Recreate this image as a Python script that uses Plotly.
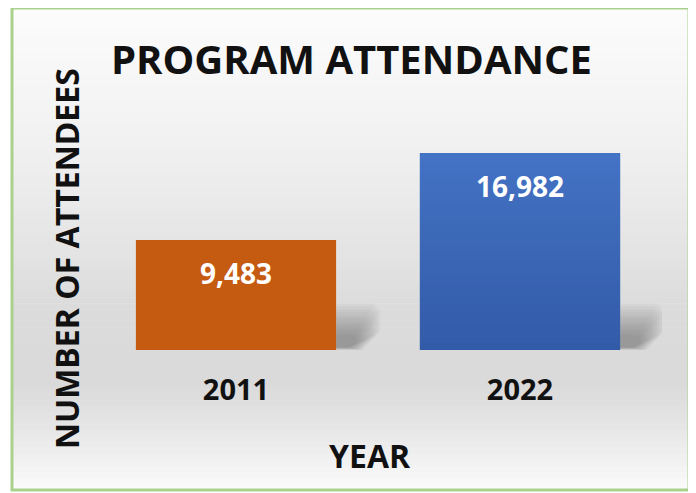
import plotly.graph_objects as go

# ---- data ----
years = ["2011", "2022"]
attendees = [9483, 16982]
value_labels = ["9,483", "16,982"]
bar_colors = ["#C55A11", "#4472C4"]

title_text = "PROGRAM ATTENDANCE"
x_title = "YEAR"
y_title = "NUMBER OF ATTENDEES"

OFF = 8  # page body margin
W, H = 696 - OFF, 493 - OFF
# plot area in reference pixel coords: x 94..662, y 100..350
PX0, PX1, PY0, PY1 = 94, 662, 100, 350
L, R, T, B = PX0 - OFF, W - (PX1 - OFF), PY0 - OFF, H - (PY1 - OFF)
plot_h = PY1 - PY0
ymax = 21550
FONT = "Open Sans"

def py(Y):  # reference pixel Y -> paper y
    return (PY1 - Y) / plot_h

def px(X):  # reference pixel X -> paper x
    return (X - PX0) / (PX1 - PX0)

fig = go.Figure()
fig.add_trace(go.Bar(
    x=years, y=attendees, width=0.705,
    marker=dict(color=bar_colors, line=dict(width=0)),
    hoverinfo="skip",
))

shapes = []
# background gradient (vertical bands)
stops = [(8, 252), (150, 240), (250, 228), (310, 219), (385, 218), (430, 231), (490, 251)]
nb = 80
y0p, y1p = 8, 490
for i in range(nb):
    a = y0p + (y1p - y0p) * i / nb
    b = y0p + (y1p - y0p) * (i + 1) / nb
    m = (a + b) / 2
    for j in range(len(stops) - 1):
        if stops[j][0] <= m <= stops[j + 1][0]:
            t = (m - stops[j][0]) / (stops[j + 1][0] - stops[j][0])
            g = stops[j][1] + t * (stops[j + 1][1] - stops[j][1])
            break
    g = int(round(g))
    shapes.append(dict(type="rect", xref="paper", yref="paper", layer="below",
                       x0=px(12), x1=px(689), y0=py(b + 0.5), y1=py(a),
                       fillcolor=f"rgb({g},{g},{g})", line=dict(width=0)))

# soft shadows behind bars (bottom-right)
for i, v in enumerate(attendees):
    edge = i + 0.705 / 2
    nl = 12
    for k in range(nl):
        f = k / nl
        hh = 4000 * (1 - 0.75 * f)
        w = 0.155 * (1 - 0.6 * f)
        yb = 250 * f
        path = (f"M {edge},{yb} L {edge},{hh} L {edge + w*0.85},{hh} "
                f"L {edge + w},{hh*0.85} L {edge + w},{hh*0.4} L {edge + w*0.6},{yb} Z")
        shapes.append(dict(type="path", xref="x", yref="y", layer="below",
                           path=path, fillcolor="rgba(80,80,80,0.045)", line=dict(width=0)))

# blue bar vertical gradient overlay
i = 1
v = attendees[i]
nbands = 30
top_c = (68, 114, 196)
bot_c = (50, 91, 168)
for k in range(nbands):
    t = (k + 0.5) / nbands
    c = tuple(int(round(bot_c[j] + t * (top_c[j] - bot_c[j]))) for j in range(3))
    shapes.append(dict(type="rect", xref="x", yref="y", layer="above",
                       x0=i - 0.705 / 2, x1=i + 0.705 / 2,
                       y0=v * k / nbands, y1=v * (k + 1) / nbands + (v * 0.002 if k < nbands - 1 else 0),
                       fillcolor=f"rgb{c}", line=dict(width=0)))

# green frame
shapes.append(dict(type="rect", xref="paper", yref="paper", layer="above",
                   x0=px(12), x1=px(689), y0=py(490), y1=py(8),
                   line=dict(color="#A9D18E", width=3), fillcolor="rgba(0,0,0,0)"))

annotations = []
for i, v in enumerate(attendees):
    annotations.append(dict(x=i, y=v, xref="x", yref="y", text=value_labels[i],
                            showarrow=False, yshift=-33, xanchor="center", yanchor="middle",
                            font=dict(family=FONT, size=28, color="white", weight="bold")))
annotations.append(dict(x=px(351), y=py(58), xref="paper", yref="paper", text=title_text,
                        showarrow=False, xanchor="center", yanchor="middle",
                        font=dict(family=FONT, size=40, color="#111", weight="bold")))
annotations.append(dict(x=px(370), y=py(455), xref="paper", yref="paper", text=x_title,
                        showarrow=False, xanchor="center", yanchor="middle",
                        font=dict(family=FONT, size=32, color="#111", weight="bold")))
annotations.append(dict(x=px(66), y=py(259), xref="paper", yref="paper", text=y_title,
                        showarrow=False, textangle=-90, xanchor="center", yanchor="middle",
                        font=dict(family=FONT, size=32, color="#111", weight="bold")))

fig.update_layout(
    width=W, height=H,
    margin=dict(l=L, r=R, t=T, b=B, autoexpand=False),
    paper_bgcolor="white", plot_bgcolor="rgba(0,0,0,0)",
    showlegend=False,
    shapes=shapes, annotations=annotations,
    xaxis=dict(type="category", range=[-0.5, 1.5], showgrid=False, zeroline=False,
               showline=False, ticks="", ticklabelstandoff=20,
               tickfont=dict(family=FONT, size=29, color="#111", weight="bold")),
    yaxis=dict(range=[0, ymax], showgrid=False, zeroline=False, showline=False,
               showticklabels=False, ticks=""),
)
fig.write_html("out.html")
